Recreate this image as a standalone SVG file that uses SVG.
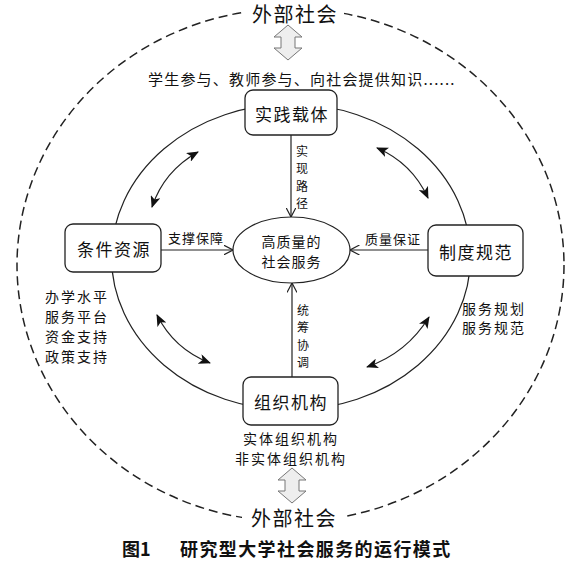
<svg xmlns="http://www.w3.org/2000/svg" width="579" height="563" viewBox="0 0 579 563">
<style>
text{font-family:"Noto Sans CJK SC","Noto Sans",sans-serif;fill:#111}
.box{fill:#fff;stroke:#222;stroke-width:1.3}
.bl{font-size:17px;letter-spacing:1.5px;text-anchor:middle;dominant-baseline:central}
.sm{font-size:14px;letter-spacing:2px}
.vl{font-size:12px;text-anchor:middle;dominant-baseline:central}
.hl{font-size:13px;letter-spacing:1px;dominant-baseline:central}
.ext{font-size:20px;letter-spacing:1.5px;text-anchor:middle;dominant-baseline:central}
.line{fill:none;stroke:#222;stroke-width:1.2}
.blk{fill:#eeeeee;stroke:#777;stroke-width:1}
</style>
<defs>
<marker id="open" viewBox="0 0 10 10" refX="9.5" refY="5" markerWidth="10" markerHeight="10" markerUnits="userSpaceOnUse" orient="auto">
<path d="M0,0 L9.5,5 L0,10" fill="none" stroke="#222" stroke-width="1.2"/>
</marker>
<marker id="solid" viewBox="0 0 12 10" refX="11" refY="5" markerWidth="12" markerHeight="10" markerUnits="userSpaceOnUse" orient="auto-start-reverse">
<path d="M0,0 L12,5 L0,10 L3,5 Z" fill="#111"/>
</marker>
</defs>
<rect width="579" height="563" fill="#fff"/>
<!-- outer dashed ellipse -->
<ellipse cx="290.5" cy="265" rx="273.5" ry="256.5" fill="none" stroke="#222" stroke-width="1.5" stroke-dasharray="9 5"/>
<!-- inner ellipse -->
<ellipse cx="291" cy="257" rx="179.5" ry="153" fill="none" stroke="#222" stroke-width="1.2"/>

<g id="connectors">
<line class="line" x1="291" y1="135" x2="291" y2="217" marker-end="url(#open)"/>
<line class="line" x1="292" y1="377" x2="292" y2="283" marker-end="url(#open)"/>
<line class="line" x1="161" y1="250" x2="233" y2="250" marker-end="url(#open)"/>
<line class="line" x1="428" y1="250" x2="350" y2="250" marker-end="url(#open)"/>
<path class="line" d="M198,152 Q164,171 152,207" marker-start="url(#solid)" marker-end="url(#solid)"/>
<path class="line" d="M377,148 Q412,163 428,198" marker-start="url(#solid)" marker-end="url(#solid)"/>
<path class="line" d="M157,315 Q174,349 210,363" marker-start="url(#solid)" marker-end="url(#solid)"/>
<path class="line" d="M429,317 Q407,353 367,367" marker-start="url(#solid)" marker-end="url(#solid)"/>
<text class="vl" x="302" y="150">实</text>
<text class="vl" x="302" y="167.5">现</text>
<text class="vl" x="302" y="185">路</text>
<text class="vl" x="302" y="202.5">径</text>
<text class="vl" x="303" y="309">统</text>
<text class="vl" x="303" y="326.5">筹</text>
<text class="vl" x="303" y="344">协</text>
<text class="vl" x="303" y="361.5">调</text>
<text class="hl" x="168" y="237">支撑保障</text>
<text class="hl" x="365" y="238">质量保证</text>
</g>

<g id="ext-top">
<rect x="244" y="1" width="100" height="25" fill="#fff"/>
<text class="ext" x="295" y="13">外部社会</text>
<polygon class="blk" points="288,25 302,37 295,37 295,48 302,48 288,60 274,48 281,48 281,37 274,37"/>
<text class="sm" x="148" y="78" style="dominant-baseline:central;font-size:15px;letter-spacing:1.2px">学生参与、教师参与、向社会提供知识......</text>
</g>

<g id="ext-bottom">
<polygon class="blk" points="292,468 306,480 299,480 299,491 306,491 292,503 278,491 285,491 285,480 278,480"/>
<rect x="242" y="505" width="102" height="25" fill="#fff"/>
<text class="ext" x="294" y="517">外部社会</text>
</g>

<g id="center">
<ellipse cx="291.5" cy="250" rx="58.5" ry="33" fill="#fff" stroke="#222" stroke-width="1.2"/>
<text x="291.5" y="241" style="font-size:14px;letter-spacing:1px;text-anchor:middle;dominant-baseline:central">高质量的</text>
<text x="291.5" y="261" style="font-size:14px;letter-spacing:1px;text-anchor:middle;dominant-baseline:central">社会服务</text>
</g>

<g id="practice">
<rect class="box" x="245" y="90" width="92" height="45" rx="8"/>
<text class="bl" x="292" y="113">实践载体</text>
</g>

<g id="condition">
<rect class="box" x="65" y="224" width="96" height="48" rx="8"/>
<text class="bl" x="114" y="248">条件资源</text>
<text class="sm" x="45" y="296" style="dominant-baseline:central">办学水平</text>
<text class="sm" x="45" y="316" style="dominant-baseline:central">服务平台</text>
<text class="sm" x="45" y="336" style="dominant-baseline:central">资金支持</text>
<text class="sm" x="45" y="356" style="dominant-baseline:central">政策支持</text>
</g>

<g id="system">
<rect class="box" x="428" y="225" width="95" height="51" rx="8"/>
<text class="bl" x="476" y="251">制度规范</text>
<text class="sm" x="462" y="308" style="dominant-baseline:central">服务规划</text>
<text class="sm" x="462" y="327" style="dominant-baseline:central">服务规范</text>
</g>

<g id="organization">
<rect class="box" x="243" y="377" width="95" height="48" rx="8"/>
<text class="bl" x="291" y="401">组织机构</text>
<text class="sm" x="291" y="438" style="text-anchor:middle;dominant-baseline:central">实体组织机构</text>
<text class="sm" x="291" y="458" style="text-anchor:middle;dominant-baseline:central">非实体组织机构</text>
</g>

<g id="caption">
<text x="122" y="548" style="font-size:18px;font-weight:bold;dominant-baseline:central">图1</text>
<text x="180" y="548" style="font-size:18px;font-weight:bold;letter-spacing:1.4px;dominant-baseline:central">研究型大学社会服务的运行模式</text>
</g>
</svg>
